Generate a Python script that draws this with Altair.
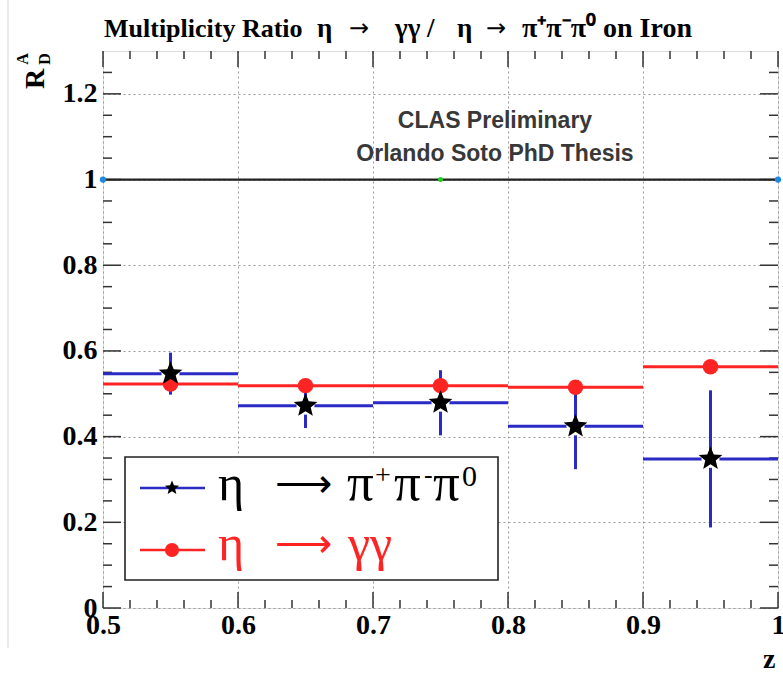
import altair as alt
import pandas as pd

# ---------------- data ----------------
bin_lo = [0.5, 0.6, 0.7, 0.8, 0.9]
bin_hi = [0.6, 0.7, 0.8, 0.9, 1.0]
z_center = [0.55, 0.65, 0.75, 0.85, 0.95]
ratio_pi3 = [0.547, 0.472, 0.479, 0.424, 0.348]
err_pi3 = [0.049, 0.052, 0.076, 0.10, 0.16]
ratio_gg = [0.523, 0.519, 0.519, 0.515, 0.563]
err_gg = [0.012, 0.012, 0.012, 0.012, 0.012]

x_major = [0.5, 0.6, 0.7, 0.8, 0.9, 1.0]
x_minor = [0.52, 0.54, 0.56, 0.58, 0.62, 0.64, 0.66, 0.68, 0.72, 0.74, 0.76, 0.78,
           0.82, 0.84, 0.86, 0.88, 0.92, 0.94, 0.96, 0.98]
y_major = [0.0, 0.2, 0.4, 0.6, 0.8, 1.0, 1.2]
y_minor = [0.05, 0.1, 0.15, 0.25, 0.3, 0.35, 0.45, 0.5, 0.55, 0.65, 0.7, 0.75,
           0.85, 0.9, 0.95, 1.05, 1.1, 1.15, 1.25]
ref_line = [1.0]
line_dots_x = [0.5, 1.0]
line_dot_mid = [0.75]

W, H = 675, 557
SERIF = "Liberation Serif"
BLUE = "#2a2ac4"
RED = "#ff2424"
STAR = ("M0,-1 L0.26,-0.36 L0.951,-0.309 L0.42,0.137 L0.588,0.809 L0,0.44 "
        "L-0.588,0.809 L-0.42,0.137 L-0.951,-0.309 L-0.26,-0.36 Z")

pi3 = pd.DataFrame({"lo": bin_lo, "hi": bin_hi, "zc": z_center, "r": ratio_pi3})
pi3["elo"] = pi3["r"] - pd.Series(err_pi3)
pi3["ehi"] = pi3["r"] + pd.Series(err_pi3)
gg = pd.DataFrame({"lo": bin_lo, "hi": bin_hi, "zc": z_center, "r": ratio_gg})
gg["elo"] = gg["r"] - pd.Series(err_gg)
gg["ehi"] = gg["r"] + pd.Series(err_gg)

xs = alt.Scale(domain=[0.5, 1.0], nice=False, zero=False)
ys = alt.Scale(domain=[0, 1.3], nice=False, zero=False)
xaxis = alt.Axis(values=x_major, format="~g", title="z", grid=True, ticks=False, domain=False,
                 labelFont=SERIF, labelFontWeight="bold", labelFontSize=28, labelColor="black",
                 labelPadding=3, labelFlush=False, labelOverlap=False,
                 gridDash=[2, 3], gridColor="#9a9a9a", gridWidth=1,
                 titleFont=SERIF, titleFontWeight="bold", titleFontSize=28, titleColor="black",
                 titleAnchor="end", titleAlign="right", titleBaseline="alphabetic",
                 titleX=W - 3, titleY=59)
yaxis = alt.Axis(values=y_major, format="~g", title="", grid=True, ticks=False, domain=False,
                 labelFont=SERIF, labelFontWeight="bold", labelFontSize=28, labelColor="black",
                 labelPadding=6, labelFlush=False, labelOverlap=False,
                 gridDash=[2, 3], gridColor="#9a9a9a", gridWidth=1)


def X(f):
    return alt.X(f, scale=xs, axis=xaxis)


def Y(f):
    return alt.Y(f, scale=ys, axis=yaxis)


# ticks (ROOT style, pointing inward, on all four sides)
xmaj = pd.DataFrame({"t": x_major})
xmin = pd.DataFrame({"t": x_minor})
ymaj = pd.DataFrame({"t": y_major})
ymin = pd.DataFrame({"t": y_minor})
tick_layers = []
for df, ln in [(xmaj, 16), (xmin, 8)]:
    tick_layers.append(alt.Chart(df).mark_rule(color="#333", strokeWidth=1.5).encode(
        x=X("t:Q"), y=alt.value(H), y2=alt.value(H - ln)))
    tick_layers.append(alt.Chart(df).mark_rule(color="#333", strokeWidth=1.5).encode(
        x=X("t:Q"), y=alt.value(0), y2=alt.value(ln)))
for df, ln in [(ymaj, 18), (ymin, 9)]:
    tick_layers.append(alt.Chart(df).mark_rule(color="#333", strokeWidth=1.5).encode(
        y=Y("t:Q"), x=alt.value(0), x2=alt.value(ln)))
    tick_layers.append(alt.Chart(df).mark_rule(color="#333", strokeWidth=1.5).encode(
        y=Y("t:Q"), x=alt.value(W), x2=alt.value(W - ln)))

# reference line at 1
ref = alt.Chart(pd.DataFrame({"y": ref_line})).mark_rule(color="#222", strokeWidth=2.2).encode(
    y=Y("y:Q"), x=alt.value(0), x2=alt.value(W))
dots = alt.Chart(pd.DataFrame({"x": line_dots_x, "y": [1.0, 1.0]})).mark_point(
    filled=True, color="#1e88e5", size=40, opacity=1).encode(x=X("x:Q"), y=Y("y:Q"))
dot_mid = alt.Chart(pd.DataFrame({"x": line_dot_mid, "y": [1.0]})).mark_point(
    filled=True, color="#22cc22", size=25, opacity=1).encode(x=X("x:Q"), y=Y("y:Q"))

# eta -> pi+ pi- pi0 (blue bars, black stars)
pi3_h = alt.Chart(pi3).mark_rule(color=BLUE, strokeWidth=3).encode(
    x=X("lo:Q"), x2="hi:Q", y=Y("r:Q"))
pi3_v = alt.Chart(pi3).mark_rule(color=BLUE, strokeWidth=3).encode(
    x=X("zc:Q"), y=Y("elo:Q"), y2="ehi:Q")
pi3_halo = alt.Chart(pi3).mark_point(shape="circle", filled=True, color="white", size=330, opacity=1).encode(
    x=X("zc:Q"), y=Y("r:Q"))
pi3_star = alt.Chart(pi3).mark_point(shape=STAR, filled=True, color="black", size=620, opacity=1).encode(
    x=X("zc:Q"), y=Y("r:Q"))

# eta -> gamma gamma (red)
gg_h = alt.Chart(gg).mark_rule(color=RED, strokeWidth=3).encode(
    x=X("lo:Q"), x2="hi:Q", y=Y("r:Q"))
gg_v = alt.Chart(gg).mark_rule(color=RED, strokeWidth=3).encode(
    x=X("zc:Q"), y=Y("elo:Q"), y2="ehi:Q")
gg_pt = alt.Chart(gg).mark_point(shape="circle", filled=True, color=RED, size=240, opacity=1).encode(
    x=X("zc:Q"), y=Y("r:Q"))

# legend
one = pd.DataFrame({"a": [0]})
leg_box = alt.Chart(one).mark_rect(fill="white", stroke="#222", strokeWidth=1.6).encode(
    x=alt.value(22), x2=alt.value(395), y=alt.value(406), y2=alt.value(529))
leg1_line = alt.Chart(one).mark_rule(color=BLUE, strokeWidth=2.5).encode(
    x=alt.value(37), x2=alt.value(102), y=alt.value(437))
leg1_star = alt.Chart(one).mark_point(shape=STAR, filled=True, color="black", size=220, opacity=1).encode(
    x=alt.value(69), y=alt.value(437))
leg2_line = alt.Chart(one).mark_rule(color=RED, strokeWidth=2.5).encode(
    x=alt.value(37), x2=alt.value(102), y=alt.value(499))
leg2_pt = alt.Chart(one).mark_point(shape="circle", filled=True, color=RED, size=200, opacity=1).encode(
    x=alt.value(69), y=alt.value(499))

# faint screenshot edge line at the far left
edge = alt.Chart(one).mark_rule(color="#e4e4e4", strokeWidth=1.5).encode(
    x=alt.value(-95), y=alt.value(-51), y2=alt.value(H + 40))


def txt(s, x, y, size, color="black", font=SERIF, weight="normal", align="left", angle=0, baseline="alphabetic"):
    return alt.Chart(one).mark_text(text=s, font=font, fontSize=size, fontWeight=weight, color=color,
                                    align=align, baseline=baseline, angle=angle).encode(
        x=alt.value(x), y=alt.value(y))


L1, L2 = 449, 509
leg_texts = [
    txt("η", 115, L1, 50),
    txt("⟶", 172, L1 - 3, 40),
    txt("π", 244, L1, 53),
    txt("+", 272, L1 - 16, 28),
    txt("π", 291, L1, 53),
    txt("-", 321, L1 - 17, 26),
    txt("π", 330, L1, 53),
    txt("0", 359, L1 - 14, 30),
    txt("η", 115, L2, 50, color=RED),
    txt("⟶", 172, L2 - 3, 40, color=RED),
    txt("γγ", 245, L2, 50, color=RED),
]

TY = -14
TS = 27
ARROW = "DejaVu Sans"
texts = [
    txt("Multiplicity Ratio", 1, TY, 26, weight="bold"),
    txt("η", 214, TY, TS, weight="bold"),
    txt("→", 246, TY - 1, 24, font=ARROW),
    txt("γγ /", 292, TY, TS, weight="bold"),
    txt("η", 354, TY, TS, weight="bold"),
    txt("→", 383, TY - 1, 24, font=ARROW),
    txt("π⁺π⁻π⁰ on Iron", 419, TY, 28, weight="bold"),
    txt("CLAS Preliminary", 392, 70, 23, color="#383838", font="Liberation Sans", weight="bold",
        align="center", baseline="middle"),
    txt("Orlando Soto PhD Thesis", 392, 103, 23, color="#383838", font="Liberation Sans", weight="bold",
        align="center", baseline="middle"),
    txt("R", -67, 28, 28, weight="bold", angle=270, align="center", baseline="middle"),
    txt("A", -80, 8, 16, weight="bold", angle=270, align="center", baseline="middle"),
    txt("D", -58, 8, 16, weight="bold", angle=270, align="center", baseline="middle"),
]

chart = alt.layer(
    edge, *tick_layers, ref, dots, dot_mid,
    pi3_h, pi3_v, pi3_halo, gg_h, gg_v, gg_pt, pi3_star,
    leg_box, leg1_line, leg1_star, leg2_line, leg2_pt, *leg_texts, *texts
).properties(
    width=W, height=H,
    autosize=alt.AutoSizeParams(type="none"),
    padding={"left": 103, "top": 51, "right": 5, "bottom": 65},
).configure_view(stroke="#222", strokeWidth=2).configure(background="white")

chart.save("out.html", embed_options={"renderer": "svg", "actions": False})
